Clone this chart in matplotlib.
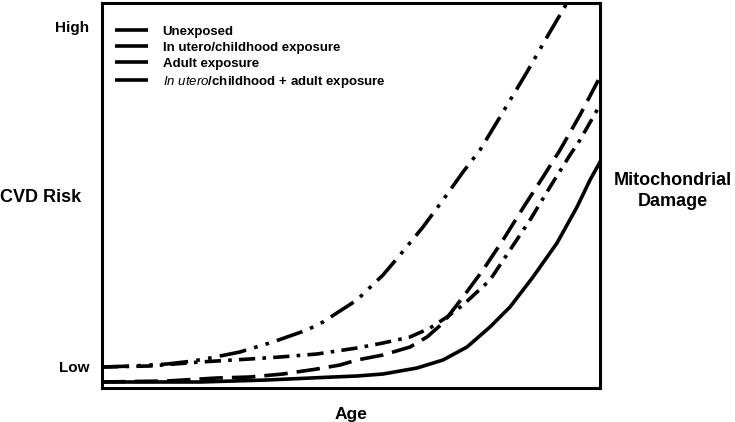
import matplotlib
matplotlib.use("Agg")
import matplotlib.pyplot as plt
from matplotlib.lines import Line2D

plt.rcParams['font.family'] = ['Liberation Sans', 'DejaVu Sans']
plt.rcParams['mathtext.fontset'] = 'custom'
plt.rcParams['mathtext.it'] = 'Liberation Sans:italic'
plt.rcParams['mathtext.rm'] = 'Liberation Sans:bold'

# curves (age, risk), arbitrary units
unexposed_x = [102, 200, 267, 333, 357, 383, 417, 443, 467, 490, 510, 533, 557, 577, 590, 600]
unexposed_y = [6, 6, 8, 11, 12, 14, 20, 28, 41, 61, 81, 111, 145, 181, 208, 226]

childhood_x = [102, 150, 200, 250, 280, 317, 357, 383, 410, 430, 447, 463, 490, 510, 530, 550,
               570, 580, 600]
childhood_y = [21, 22, 26, 29, 31, 34, 40, 45, 51, 60, 71, 83, 108, 138, 168, 201, 233, 248, 283]

adult_x = [102, 167, 217, 250, 283, 317, 340, 357, 383, 410, 427, 443, 463, 483, 503, 523, 543,
           560, 580, 600]
adult_y = [6, 7, 10, 11, 14, 19, 23, 28, 33, 41, 51, 65, 91, 118, 148, 180, 211, 238, 273, 311]

both_x = [102, 133, 167, 193, 210, 240, 253, 273, 287, 307, 323, 343, 357, 383, 400, 423, 443,
          463, 480, 500, 527, 547, 567, 577]
both_y = [21, 22, 24, 27, 30, 36, 40, 46, 51, 58, 66, 79, 88, 113, 133, 161, 188, 216, 238, 271,
          316, 351, 385, 400]

labels = ['Unexposed', 'In utero/childhood exposure', 'Adult exposure',
          r'$\it{In\ utero}$/childhood + adult exposure']
tick_pos = [21, 361]
tick_labels = ['Low', 'High']

fig = plt.figure(figsize=(7.35, 4.22), dpi=100)
ax = fig.add_axes([102 / 735, 1 - 388 / 422, 498 / 735, 385 / 422])

lw = 2.6
ax.plot(unexposed_x, unexposed_y, color='black', lw=lw, solid_joinstyle='round')
ax.plot(childhood_x, childhood_y, color='black', lw=lw, dashes=[4.5, 2.0, 1.0, 2.0],
        dash_capstyle='butt')
ax.plot(adult_x, adult_y, color='black', lw=lw, dashes=[6.5, 2.5], dash_capstyle='butt')
ax.plot(both_x, both_y, color='black', lw=lw, dashes=[7.5, 2.3, 1.0, 2.3, 1.0, 2.3],
        dash_capstyle='butt')

ax.set_xlim(102, 600)
ax.set_ylim(0, 385)
ax.set_xticks([])
ax.set_yticks(tick_pos)
ax.set_yticklabels(tick_labels, fontsize=11, fontweight='bold')
ax.tick_params(axis='y', length=0, pad=9)
for s in ax.spines.values():
    s.set_linewidth(2.2)

ax.set_xlabel('Age', fontsize=12.5, fontweight='bold', labelpad=14)
fig.text(0.0, 1 - 197 / 422, 'CVD Risk', fontsize=13, fontweight='bold', va='center', ha='left')
fig.text(673 / 735, 1 - 191 / 422, 'Mitochondrial\nDamage', fontsize=13, fontweight='bold',
         va='center', ha='center', linespacing=1.3)

handles = [Line2D([], [], color='black', lw=lw, linestyle='-', solid_capstyle='butt')
           for _ in labels]
leg = ax.legend(handles, labels, loc='upper left', bbox_to_anchor=(0.0, 0.975), frameon=False,
                prop={'size': 9.5, 'weight': 'bold'}, handlelength=2.5, handletextpad=1.1,
                labelspacing=0.28, borderaxespad=0.6)

fig.savefig('out.png', dpi=100)
